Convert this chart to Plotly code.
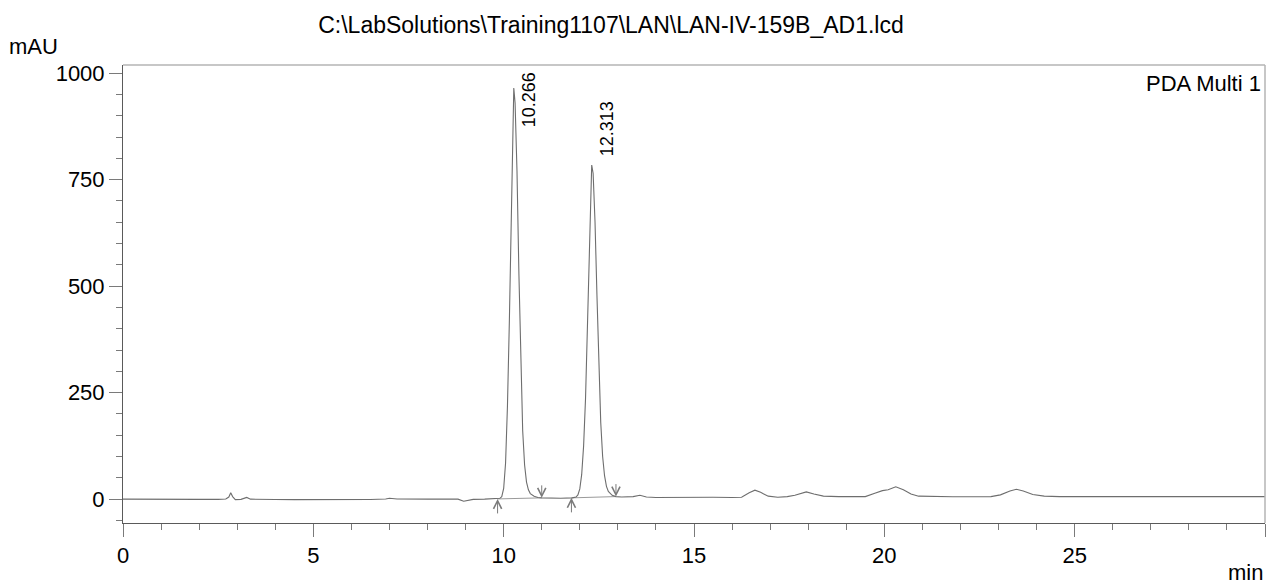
import plotly.graph_objs as go

# Chromatogram (time in min, signal in mAU)
time_min = [
    0.0, 0.5, 1.0, 1.5, 2.0, 2.5, 2.7, 2.78, 2.83, 2.88, 2.95, 3.1, 3.25, 3.35,
    3.6, 4.0, 4.5, 5.0, 5.5, 6.0, 6.5, 6.9, 7.0, 7.2, 7.5, 8.0, 8.5, 8.8, 8.95,
    9.05, 9.2, 9.5, 9.8,
    9.9, 9.95, 10.0, 10.05, 10.1, 10.15, 10.2, 10.24, 10.266, 10.3, 10.35, 10.4,
    10.45, 10.5, 10.55, 10.6, 10.65, 10.7, 10.8, 10.9, 11.0, 11.2, 11.5, 11.8,
    11.9, 11.95, 12.0, 12.05, 12.1, 12.15, 12.2, 12.25, 12.29, 12.313, 12.35,
    12.4, 12.45, 12.5, 12.55, 12.6, 12.65, 12.7, 12.75, 12.85, 12.95, 13.1,
    13.4, 13.58, 13.75, 14.0, 14.5, 15.0, 15.5, 16.0, 16.25, 16.45, 16.6, 16.75,
    16.95, 17.2, 17.45, 17.65, 17.95, 18.15, 18.4, 18.8, 19.2, 19.5, 19.75,
    19.95, 20.1, 20.3, 20.5, 20.7, 20.9, 21.3, 21.8, 22.3, 22.8, 23.05, 23.3,
    23.47, 23.65, 23.9, 24.2, 24.6, 25.0, 26.0, 27.0, 28.0, 29.0, 30.0,
]
signal_mau = [
    0.0, -0.5, 0.0, -0.8, -0.5, -0.6, 0.5, 5, 15, 6, -1, -0.5, 4, 0,
    -1, -1, -1.2, -1.5, -1, -1.2, -1, 0.5, 2, 0.5, 0, 0, 0.5, 0, -5,
    -3, -0.5, 0, 0.5,
    2, 6, 25, 85, 220, 420, 690, 880, 965, 930, 770, 530,
    310, 160, 80, 40, 22, 13, 7, 4, 3, 2, 2, 3,
    5, 10, 24, 58, 125, 235, 395, 575, 730, 784, 765,
    650, 480, 310, 180, 100, 55, 30, 18, 9, 6, 5,
    6, 9, 5, 4, 4.5, 4, 4.5, 4, 4.5, 15, 21, 16,
    7, 4.5, 6, 9, 17, 12, 7, 6, 5, 6, 14,
    20, 22, 29, 22, 12, 7, 6, 5.5, 5.5, 6, 10, 19,
    23, 19, 11, 7, 6, 6, 6, 6, 6, 6, 6,
]

# Integrated peaks: retention time, apex height, start/end of the drawn baseline
peak_rt = [10.266, 12.313]
peak_height = [965, 784]
base_start_t = [9.84, 11.78]
base_start_y = [0.5, 3]
base_end_t = [11.0, 12.95]
base_end_y = [3, 6]

title_text = "C:\\LabSolutions\\Training1107\\LAN\\LAN-IV-159B_AD1.lcd"
font_family = "Liberation Sans, Arial, sans-serif"

W, H = 1267, 586

fig = go.Figure()

# Baselines under each peak
for i in range(len(peak_rt)):
    fig.add_trace(go.Scatter(
        x=[base_start_t[i], base_end_t[i]], y=[base_start_y[i], base_end_y[i]],
        mode='lines', line=dict(color='#9a9a9a', width=1), hoverinfo='skip'))

# Main trace
fig.add_trace(go.Scatter(x=time_min, y=signal_mau, mode='lines',
                         line=dict(color='#6e6e6e', width=1.1), name='PDA Multi 1'))

annotations = []
for i in range(len(peak_rt)):
    # start (up) and end (down) markers
    annotations.append(dict(x=base_start_t[i], y=base_start_y[i], ax=0, ay=16,
                            showarrow=True, arrowhead=5, arrowsize=1.6, arrowwidth=1,
                            arrowcolor='#7a7a7a', text=''))
    annotations.append(dict(x=base_end_t[i], y=base_end_y[i], ax=0, ay=-14,
                            showarrow=True, arrowhead=5, arrowsize=1.6, arrowwidth=1,
                            arrowcolor='#7a7a7a', text=''))
    # retention time label, rotated
    if peak_height[i] > 900:
        lab = dict(yref='paper', y=1, yanchor='top', yshift=-5)
    else:
        lab = dict(y=peak_height[i], yanchor='bottom', yshift=7)
    annotations.append(dict(x=peak_rt[i], text=f"{peak_rt[i]:.3f}", textangle=-90,
                            showarrow=False, xanchor='center', xshift=15,
                            font=dict(size=18, color='black', family=font_family), **lab))

annotations.append(dict(xref='paper', yref='paper', x=1, y=1, xanchor='right', yanchor='top',
                        xshift=-2, yshift=-4, text='PDA Multi 1', showarrow=False,
                        font=dict(size=22, color='black', family=font_family)))
annotations.append(dict(xref='paper', yref='paper', x=-123 / 1142, y=1, xanchor='left',
                        yanchor='bottom', xshift=7, yshift=4, text='mAU', showarrow=False,
                        font=dict(size=22, color='black', family=font_family)))
annotations.append(dict(xref='paper', yref='paper', x=1, y=0, xanchor='right',
                        yanchor='top', yshift=-35, text='min', showarrow=False,
                        font=dict(size=22, color='black', family=font_family)))

fig.update_layout(
    width=W, height=H,
    margin=dict(l=123, r=2, t=65, b=63, autoexpand=False),
    paper_bgcolor='white', plot_bgcolor='white',
    showlegend=False,
    font=dict(family=font_family, size=21, color='black'),
    title=dict(text=title_text, x=611 / W, xref='container', xanchor='center',
               y=1 - 25 / H, yanchor='middle', font=dict(size=23, color='black')),
    annotations=annotations,
    shapes=[
        dict(type='line', xref='paper', yref='paper', x0=0, x1=1, y0=1, y1=1,
             line=dict(color='#b4b4b4', width=1.5)),
        dict(type='line', xref='paper', yref='paper', x0=1, x1=1, y0=0, y1=1,
             line=dict(color='#b4b4b4', width=1.5)),
    ],
)

fig.update_xaxes(range=[0, 30], tick0=0, dtick=5, showgrid=False, zeroline=False,
                 showline=True, linecolor='#5a5a5a', linewidth=1,
                 ticks='outside', ticklen=13, tickcolor='#7a7a7a',
                 minor=dict(dtick=1, ticks='outside', ticklen=6, tickcolor='#7a7a7a'),
                 tickfont=dict(size=22))
fig.update_yaxes(range=[-56, 1019], tick0=0, dtick=250, showgrid=False, zeroline=False,
                 showline=True, linecolor='#5a5a5a', linewidth=1,
                 ticks='outside', ticklen=13, tickcolor='#7a7a7a',
                 minor=dict(dtick=50, ticks='outside', ticklen=6, tickcolor='#7a7a7a'),
                 tickfont=dict(size=22))

# drop the default 8px body margin so the figure fills the window exactly
fig.write_html("out.html", config={'displayModeBar': False},
               post_script="document.body.style.margin='0px';document.body.style.overflow='hidden';")
